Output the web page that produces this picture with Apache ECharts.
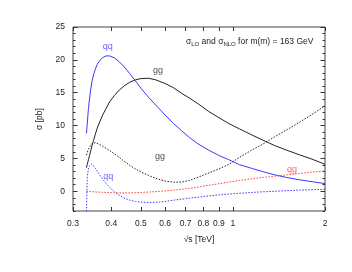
<!DOCTYPE html>
<html>
<head>
<meta charset="utf-8">
<script src="https://cdn.jsdelivr.net/npm/echarts@6/dist/echarts.min.js"></script>
<style>html,body{margin:0;padding:0;background:#fff;}#c{width:352px;height:272px;}</style>
</head>
<body>
<div id="c"></div>
<script>
// sqrt(s) in TeV
const sqrtS = [0.332,0.334,0.337,0.34,0.343,0.346,0.35,0.355,0.36,0.367,0.375,0.385,0.395,0.41,0.425,0.44,0.46,0.48,0.5,0.53,0.56,0.6,0.64,0.68,0.72,0.77,0.83,0.9,0.97,1.05,1.15,1.25,1.37,1.5,1.65,1.8,2.0];
const qqLO  = [8.8,10.3,12.6,14.2,15.6,16.7,17.7,18.6,19.3,19.9,20.35,20.6,20.6,20.3,19.7,19.0,17.9,16.8,15.7,14.3,13.1,11.6,10.3,9.2,8.2,7.2,6.3,5.45,4.8,4.05,3.5,3.0,2.5,2.1,1.75,1.48,1.17];
const ggLO  = [3.6,4.1,4.8,5.5,6.2,6.9,7.7,8.7,9.6,10.6,11.6,12.6,13.6,14.6,15.4,16.0,16.6,16.95,17.15,17.2,16.95,16.4,15.75,14.9,14.2,13.3,12.2,11.2,10.3,9.5,8.6,7.8,6.95,6.25,5.55,4.95,4.1];
const ggNLO = [5.5,5.9,6.4,6.75,7.05,7.25,7.4,7.4,7.3,7.1,6.85,6.55,6.2,5.7,5.15,4.6,3.95,3.4,2.95,2.4,1.95,1.55,1.38,1.4,1.65,2.15,2.75,3.4,4.1,5.15,6.25,7.15,8.3,9.35,10.5,11.6,13.0];
const qqNLO = [-3.5,2.2,3.4,3.9,4.15,4.2,4.0,3.5,3.05,2.5,1.85,1.2,0.6,-0.1,-0.6,-1.0,-1.35,-1.55,-1.65,-1.7,-1.68,-1.55,-1.35,-1.2,-1.05,-0.9,-0.72,-0.55,-0.42,-0.3,-0.18,-0.08,0.0,0.1,0.18,0.24,0.3];
const qgNLO = [0,0,-0.02,-0.03,-0.05,-0.06,-0.08,-0.1,-0.12,-0.14,-0.16,-0.18,-0.2,-0.22,-0.24,-0.25,-0.25,-0.22,-0.18,-0.12,-0.05,0.05,0.18,0.3,0.45,0.65,0.9,1.15,1.4,1.65,1.9,2.1,2.3,2.5,2.7,2.9,3.1];

const xTicks = [0.3,0.4,0.5,0.6,0.7,0.8,0.9,1,2];
const yMajor = [0,5,10,15,20,25];
const yMinor = [-3,-2,-1,1,2,3,4,6,7,8,9,11,12,13,14,16,17,18,19,21,22,23,24];

// curve labels: [sqrt(s), sigma, text, colour]
const curveLabels = [
  [0.390, 22.1, 'qq', '#3a3aff'],
  [0.569, 18.4, 'gg', '#222222'],
  [0.577, 5.3,  'gg', '#222222'],
  [0.391, 2.2,  'qq', '#3a3aff'],
  [1.559, 3.35, 'qg', '#ff3a3a']
];

const L = Math.log10;
const pairs = arr => sqrtS.map((s, i) => [L(s), arr[i]]);
const FONT = 'Liberation Sans, Arial, sans-serif';
const TXT = '#222';

const xMin = L(0.3), xMax = L(2);
function fmtX(v) {
  const s = Math.pow(10, v);
  const r = Math.round(s * 10) / 10;
  return (Math.abs(r - Math.round(r)) < 1e-6) ? String(Math.round(r)) : r.toFixed(1);
}

const axisLine = { show: false, onZero: false };
const xAxes = [
  { type: 'value', position: 'bottom', min: xMin, max: xMax, gridIndex: 0,
    axisLine, splitLine: { show: false },
    axisTick: { show: true, inside: true, length: 4, customValues: xTicks.map(L), lineStyle: { color: '#333' } },
    axisLabel: { show: true, customValues: xTicks.map(L), formatter: fmtX, fontSize: 8.5, color: TXT, fontFamily: FONT, margin: 8 },
    name: '\u221As [TeV]', nameLocation: 'middle', nameGap: 24,
    nameTextStyle: { fontSize: 8.5, color: TXT, fontFamily: FONT } },
  { type: 'value', position: 'top', min: xMin, max: xMax, gridIndex: 0,
    axisLine, splitLine: { show: false },
    axisTick: { show: true, inside: true, length: 4, customValues: xTicks.map(L), lineStyle: { color: '#333' } },
    axisLabel: { show: false } }
];
function yAx(pos, ticks, len, labels, extra) {
  return Object.assign({
    type: 'value', position: pos, min: -3, max: 25, gridIndex: 0,
    axisLine, splitLine: { show: false },
    axisTick: { show: true, inside: true, length: len, customValues: ticks, lineStyle: { color: '#333' } },
    axisLabel: labels ? { show: true, customValues: ticks, fontSize: 8.5, color: TXT, fontFamily: FONT, margin: 8 } : { show: false }
  }, extra || {});
}
const yAxes = [
  yAx('left', yMajor, 4.5, true, { name: '\u03C3 [pb]', nameLocation: 'middle', nameGap: 27, nameRotate: 90,
      nameTextStyle: { fontSize: 8.5, color: TXT, fontFamily: FONT } }),
  yAx('left', yMinor, 2.5, false),
  yAx('right', yMajor, 4.5, false),
  yAx('right', yMinor, 2.5, false)
];

function line(data, color, dashed) {
  return { type: 'line', data: pairs(data), xAxisIndex: 0, yAxisIndex: 0,
    smooth: false, showSymbol: false, symbol: 'none', clip: true, silent: true,
    lineStyle: { color, width: 1, type: dashed ? [1.5, 1.5] : 'solid' } };
}

const option = {
  animation: false,
  backgroundColor: '#fff',
  grid: { left: 73, right: 27, top: 27, bottom: 61, show: true, borderColor: '#444', borderWidth: 1, backgroundColor: 'transparent' },
  xAxis: xAxes,
  yAxis: yAxes,
  series: [
    line(ggLO, '#222222', false),
    line(qqLO, '#3a3aff', false),
    line(ggNLO, '#222222', true),
    line(qqNLO, '#3a3aff', true),
    line(qgNLO, '#ff3a3a', true),
    { type: 'scatter', xAxisIndex: 0, yAxisIndex: 0, symbolSize: 0, silent: true,
      data: curveLabels.map(d => ({ value: [L(d[0]), d[1]], name: d[2],
        label: { show: true, position: 'inside', formatter: d[2], color: d[3], fontSize: 9, fontFamily: FONT } })) }
  ],
  graphic: [{
    type: 'text', left: 186, top: 37,
    style: {
      text: '\u03C3{sub|LO} and \u03C3{sub|NLO} for m(m) = 163 GeV',
      rich: { sub: { fontSize: 6, padding: [5, 0, 0, 0], fontFamily: FONT, fill: TXT } },
      fontSize: 8.5, fontFamily: FONT, fill: TXT
    }
  }]
};

const chart = echarts.init(document.getElementById('c'), null, { renderer: 'canvas' });
chart.setOption(option);
</script>
</body>
</html>
